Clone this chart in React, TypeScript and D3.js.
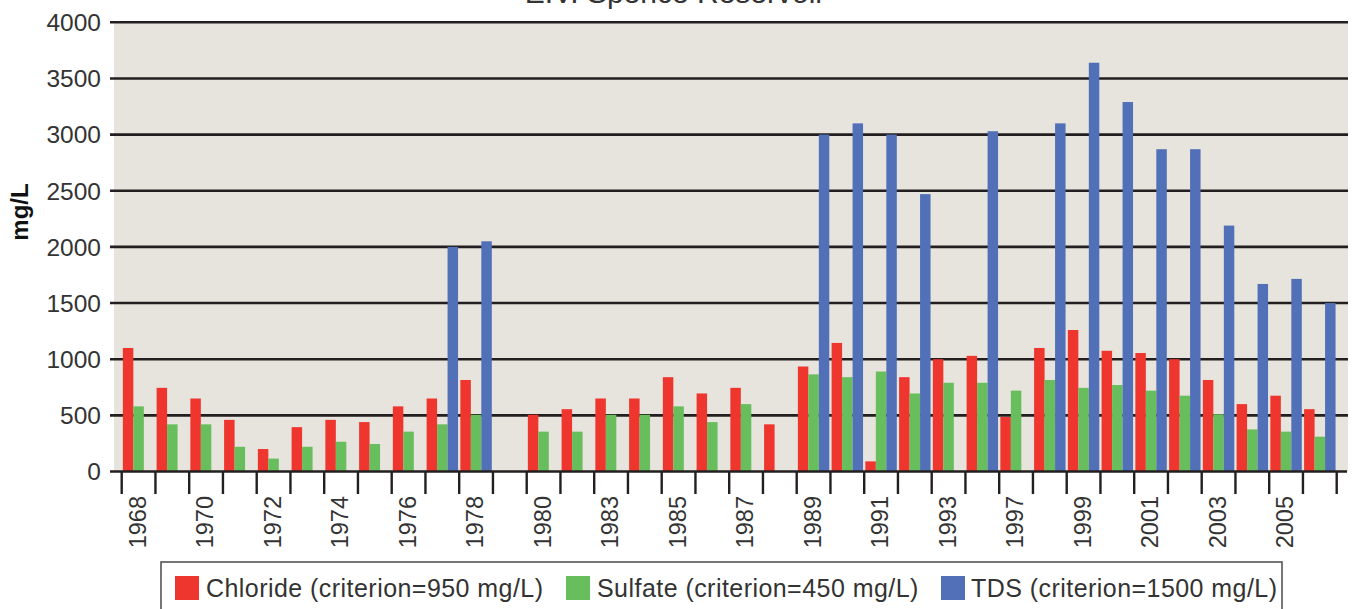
import React from "react";
import * as d3 from "d3";

const categories = [
  "1968", "1969", "1970", "1971", "1972", "1973", "1974", "1975", "1976", "1977",
  "1978", "1979", "1980", "1982", "1983", "1984", "1985", "1986", "1987", "1988",
  "1989", "1990", "1991", "1992", "1993", "1995", "1997", "1998", "1999", "2000",
  "2001", "2002", "2003", "2004", "2005", "2006",
];

const chloride = [
  1100, 745, 650, 460, 200, 395, 460, 440, 580, 650,
  815, null, 505, 555, 650, 650, 840, 695, 745, 420,
  935, 1145, 90, 840, 1000, 1030, 485, 1100, 1260, 1075,
  1055, 1000, 815, 600, 675, 555,
];

const sulfate = [
  580, 420, 420, 220, 115, 220, 265, 245, 355, 420,
  505, null, 355, 355, 505, 505, 580, 440, 600, null,
  865, 840, 890, 695, 790, 790, 720, 815, 745, 770,
  720, 675, 510, 375, 355, 310,
];

const tds = [
  null, null, null, null, null, null, null, null, null, 2000,
  2050, null, null, null, null, null, null, null, null, null,
  3000, 3100, 3000, 2470, null, 3030, null, 3100, 3640, 3290,
  2870, 2870, 2190, 1670, 1715, 1500,
];

const seriesNames = ["Chloride (criterion=950 mg/L)", "Sulfate (criterion=450 mg/L)", "TDS (criterion=1500 mg/L)"];
const seriesColors = ["#ee352e", "#68be5d", "#5170b7"];
const yTicks = [0, 500, 1000, 1500, 2000, 2500, 3000, 3500, 4000];
const title = "E.V. Spence Reservoir";

const W = 1352;
const H = 609;
const FONT = "'Liberation Sans', Arial, Helvetica, sans-serif";

export default function App() {
  const series = [chloride, sulfate, tds];
  const plotLeft = 114;
  const plotRight = 1348;
  const x = d3.scaleBand().domain(categories).range([121.7, 1336.7]).paddingInner(0).paddingOuter(0);
  const xi = d3.scaleBand().domain(["0", "1", "2"]).range([0, x.bandwidth()]).paddingInner(0).paddingOuter(0.11);
  const y = d3.scaleLinear().domain([0, 4000]).range([471.5, 22.3]);

  const tickXs = categories.map((c) => x(c) as number).concat([(x(categories[categories.length - 1]) as number) + x.bandwidth()]);

  const legendItems = [
    { sx: 175, tx: 206 },
    { sx: 566, tx: 597 },
    { sx: 941, tx: 971 },
  ];

  return (
    <div style={{ position: "absolute", left: 0, top: 0 }}>
      <svg width={W} height={H} style={{ display: "block", background: "#ffffff" }}>
        <text x={675} y={2.5} textAnchor="middle" fontFamily={FONT} fontSize={30} fill="#333">
          {title}
        </text>
        <rect x={plotLeft} y={y(4000)} width={plotRight - plotLeft} height={y(0) - y(4000)} fill="#e7e4dd" />
        {yTicks.map((t) => (
          <g key={t}>
            {t > 0 && (
              <line x1={110} x2={plotRight} y1={y(t)} y2={y(t)} stroke="#231f20" strokeWidth={2.6} />
            )}
            <text
              x={101}
              y={y(t)}
              dy="0.36em"
              textAnchor="end"
              fontFamily={FONT}
              fontSize={24.5}
              fill="#333"
            >
              {t}
            </text>
          </g>
        ))}
        {series.map((vals, si) =>
          vals.map((v, i) =>
            v == null ? null : (
              <rect
                key={`${si}-${i}`}
                x={(x(categories[i]) as number) + (xi(String(si)) as number)}
                y={y(v)}
                width={xi.bandwidth()}
                height={y(0) - y(v)}
                fill={seriesColors[si]}
              />
            )
          )
        )}
        <line x1={110} x2={1347} y1={y(0)} y2={y(0)} stroke="#231f20" strokeWidth={2.6} />
        {tickXs.map((tx, i) => (
          <line key={i} x1={tx} x2={tx} y1={y(0)} y2={494} stroke="#231f20" strokeWidth={2.4} />
        ))}
        {categories.map((c, i) =>
          i % 2 === 0 ? (
            <text
              key={c}
              transform={`translate(${(x(c) as number) + x.bandwidth() / 2 - 1.5},496) rotate(-90)`}
              textAnchor="end"
              dy="0.36em"
              fontFamily={FONT}
              fontSize={23.5}
              fill="#333"
            >
              {c}
            </text>
          ) : null
        )}
        <text
          transform={`translate(28,212) rotate(-90)`}
          textAnchor="middle"
          fontFamily={FONT}
          fontSize={24}
          fontWeight="bold"
          fill="#111"
        >
          mg/L
        </text>
        <rect x={161} y={562} width={1121} height={60} fill="#ffffff" stroke="#555" strokeWidth={1.6} />
        {seriesNames.map((name, si) => (
          <g key={name}>
            <rect x={legendItems[si].sx} y={576} width={24} height={24} fill={seriesColors[si]} />
            <text
              x={legendItems[si].tx}
              y={588}
              dy="0.36em"
              fontFamily={FONT}
              fontSize={25}
              letterSpacing={0.45}
              fill="#333"
            >
              {name}
            </text>
          </g>
        ))}
      </svg>
    </div>
  );
}
